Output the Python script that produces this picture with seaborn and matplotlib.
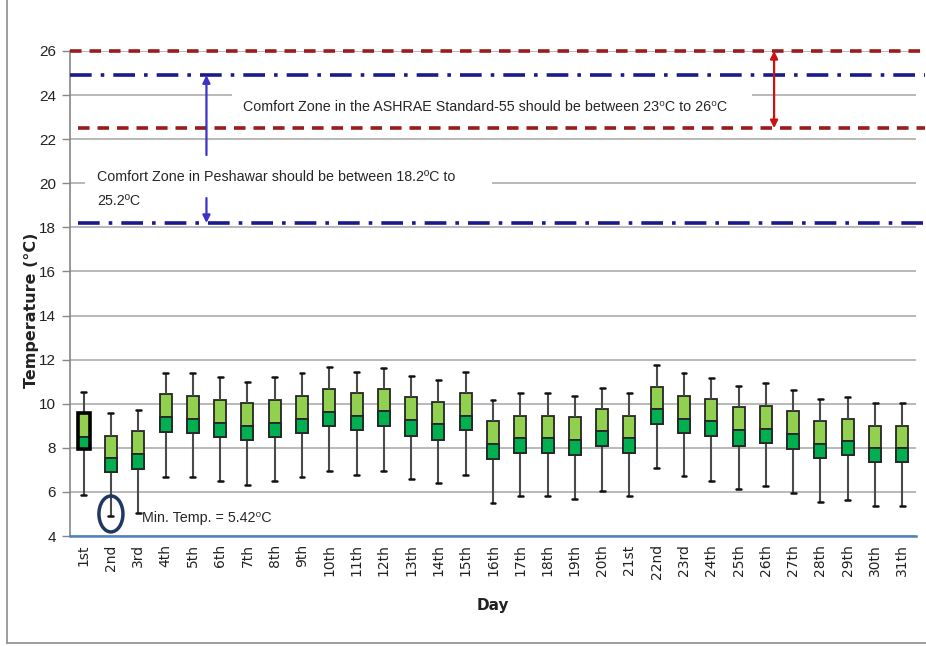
import numpy as np
import pandas as pd
import matplotlib
matplotlib.use("Agg")
import matplotlib.pyplot as plt
from matplotlib.patches import Rectangle, Ellipse
from matplotlib.lines import Line2D
import seaborn as sns

# ---------------- data ----------------
days = ["1st", "2nd", "3rd", "4th", "5th", "6th", "7th", "8th", "9th", "10th",
        "11th", "12th", "13th", "14th", "15th", "16th", "17th", "18th", "19th", "20th",
        "21st", "22nd", "23rd", "24th", "25th", "26th", "27th", "28th", "29th", "30th", "31th"]
whisker_low = [5.86, 4.92, 5.03, 6.69, 6.69, 6.51, 6.31, 6.51, 6.69, 6.96,
               6.77, 6.96, 6.58, 6.39, 6.77, 5.48, 5.81, 5.81, 5.68, 6.06,
               5.81, 7.10, 6.71, 6.51, 6.13, 6.27, 5.94, 5.56, 5.62, 5.37, 5.37]
q1 = [7.93, 6.89, 7.02, 8.73, 8.67, 8.48, 8.35, 8.48, 8.67, 8.99,
      8.81, 9.00, 8.55, 8.37, 8.81, 7.48, 7.78, 7.78, 7.66, 8.10,
      7.78, 9.07, 8.69, 8.55, 8.10, 8.23, 7.93, 7.54, 7.66, 7.34, 7.34]
median = [8.50, 7.52, 7.72, 9.38, 9.31, 9.14, 9.00, 9.14, 9.31, 9.64,
          9.44, 9.66, 9.26, 9.07, 9.44, 8.16, 8.43, 8.43, 8.35, 8.76,
          8.43, 9.74, 9.31, 9.20, 8.81, 8.87, 8.63, 8.16, 8.31, 7.98, 7.98]
q3 = [9.56, 8.55, 8.76, 10.43, 10.36, 10.15, 10.02, 10.15, 10.36, 10.67,
      10.49, 10.67, 10.29, 10.09, 10.49, 9.20, 9.46, 9.46, 9.40, 9.77,
      9.46, 10.74, 10.35, 10.23, 9.84, 9.91, 9.66, 9.22, 9.32, 9.00, 9.00]
whisker_high = [10.54, 9.59, 9.71, 11.38, 11.38, 11.20, 11.00, 11.20, 11.38, 11.65,
                11.44, 11.63, 11.26, 11.06, 11.44, 10.15, 10.49, 10.49, 10.36, 10.73,
                10.49, 11.76, 11.38, 11.18, 10.82, 10.92, 10.61, 10.23, 10.29, 10.05, 10.05]

ashrae_low, ashrae_high = 22.5, 26.0
peshawar_low, peshawar_high = 18.2, 24.9
min_temp_day = "2nd"
min_temp_value = 5.0

y_ticks = list(range(4, 27, 2))

# five-number summaries -> long table (quartiles exact with linear interpolation)
rows = []
for d, a, b, c, e, f in zip(days, whisker_low, q1, median, q3, whisker_high):
    for v in (a, b, c, e, f):
        rows.append({"day": d, "temp": v})
df = pd.DataFrame(rows)

# ---------------- style ----------------
sns.set_style("white")
plt.rcParams["font.family"] = ["DejaVu Sans"]
ann_font = ["Liberation Sans", "DejaVu Sans"]

fig = plt.figure(figsize=(9.26, 6.46), dpi=100)
ax = fig.add_axes([70 / 926, 110 / 646, 846 / 926, 485 / 646])

light_green = "#92D050"
dark_green = "#00B050"
edge = "#262626"

sns.boxplot(data=df, x="day", y="temp", order=days, whis=(0, 100), width=0.44,
            color=light_green, saturation=1, linecolor=edge, linewidth=1.3,
            showfliers=False, capwidths=0.18,
            whiskerprops=dict(color="#4a4a4a", linewidth=1.5),
            capprops=dict(color="#111111", linewidth=1.8),
            ax=ax)

xpos = np.arange(len(days))
lower_h = np.array(median) - np.array(q1)
ax.bar(xpos, lower_h, bottom=q1, width=0.44, color=dark_green,
       edgecolor=edge, linewidth=1.3, zorder=3)
# highlighted first box (thick border, as in the source)
ax.bar(xpos[:1], np.array(q3[:1]) - np.array(q1[:1]), bottom=q1[:1], width=0.44,
       fill=False, edgecolor="black", linewidth=2.6, zorder=4)

# ---------------- axes ----------------
ax.set_xlim(-0.5, len(days) - 0.5)
ax.set_ylim(4, 26)
ax.set_yticks(y_ticks)
ax.set_yticklabels([str(t) for t in y_ticks], fontsize=11, family=ann_font, color="#222222")
ax.yaxis.grid(True, color="#A6A6A6", linewidth=1.1)
ax.xaxis.grid(False)
ax.set_axisbelow(True)

ax.set_xticks(xpos)
ax.set_xticklabels(days, rotation=90, fontsize=10, color="#222222")
ax.set_xticks(np.arange(-0.5, len(days), 1.0), minor=True)
ax.tick_params(axis="x", which="major", length=0, pad=6)
ax.tick_params(axis="x", which="minor", length=6, width=1.2, color="#4F81BD", direction="out")
ax.tick_params(axis="y", which="major", length=6, width=1, color="#868686", direction="out", pad=4, left=True)

for s in ["top", "right"]:
    ax.spines[s].set_visible(False)
ax.spines["left"].set_color("#868686")
ax.spines["left"].set_linewidth(1.2)
ax.spines["bottom"].set_color("#4F81BD")
ax.spines["bottom"].set_linewidth(1.8)

ax.set_xlabel("Day", fontsize=11, fontweight="bold", color="#222222")
ax.xaxis.set_label_coords(0.5, -0.144)
ax.xaxis.label.set_va("center")
ax.set_ylabel("Temperature (°C)", fontsize=11.5, fontweight="bold", color="#222222")
ax.yaxis.set_label_coords(-0.045, 0.466)
ax.yaxis.label.set_va("center")

# ---------------- comfort zone lines ----------------
x_end = (925 - 70) / 846
ax.axhline(ashrae_high, xmin=0, xmax=x_end, color="#9B1C1C", linewidth=2.6,
           linestyle=(0, (3.2, 2.2)), clip_on=False, zorder=5)
ax.axhline(ashrae_low, xmin=0.0095, xmax=x_end, color="#9B1C1C", linewidth=2.6,
           linestyle=(0, (3.2, 2.2)), clip_on=False, zorder=5)
ax.axhline(peshawar_high, xmin=0, xmax=x_end, color="#1A1A8C", linewidth=2.6,
           linestyle=(0, (6, 2.5, 1, 2.5)), clip_on=False, zorder=5)
ax.axhline(peshawar_low, xmin=0.0095, xmax=x_end, color="#1A1A8C", linewidth=2.6,
           linestyle=(0, (6, 2.5, 1, 2.5)), clip_on=False, zorder=5)

# white text-box backgrounds that hide gridlines
ax.add_patch(Rectangle((0.1915, 0.841), 0.615, 0.083, transform=ax.transAxes,
                       facecolor="white", edgecolor="none", zorder=1))
ax.add_patch(Rectangle((0.0177, 0.662), 0.481, 0.124, transform=ax.transAxes,
                       facecolor="white", edgecolor="none", zorder=1))

ax.text(0.2045, 0.8845, "Comfort Zone in the ASHRAE Standard-55 should be between 23⁰C to 26⁰C",
        transform=ax.transAxes, ha="left", va="center", fontsize=10.3,
        family=ann_font, color="#262626", zorder=6)
ax.text(0.0319, 0.7155, "Comfort Zone in Peshawar should be between 18.2ºC to\n25.2ºC",
        transform=ax.transAxes, ha="left", va="center", fontsize=10.3, linespacing=1.95,
        family=ann_font, color="#262626", zorder=6)
ax.text(0.0851, 0.0371, "Min. Temp. = 5.42⁰C",
        transform=ax.transAxes, ha="left", va="center", fontsize=10.3,
        family=ann_font, color="#262626", zorder=6)

# arrows
arrow_blue = dict(arrowstyle="-|>", color="#3B32C8", linewidth=1.6, mutation_scale=11,
                  shrinkA=0, shrinkB=0)
ax.annotate("", xy=(4.5, peshawar_high), xytext=(4.5, 21.28), arrowprops=arrow_blue, zorder=6)
ax.annotate("", xy=(4.5, peshawar_low), xytext=(4.5, 19.33), arrowprops=arrow_blue, zorder=6)
ax.annotate("", xy=(25.3, ashrae_high), xytext=(25.3, ashrae_low),
            arrowprops=dict(arrowstyle="<|-|>", color="#CC1111", linewidth=1.6,
                            mutation_scale=11, shrinkA=0, shrinkB=0), zorder=6)

# ellipse marking the minimum temperature
ax.add_patch(Ellipse((days.index(min_temp_day), min_temp_value), 0.88, 1.63,
                     facecolor="none", edgecolor="#1F3864", linewidth=2.5, zorder=6))

# outer chart border (left & bottom)
fig.add_artist(Line2D([7 / 926, 7 / 926], [1.0, 3 / 646], color="#8C8C8C", linewidth=1.2))
fig.add_artist(Line2D([7 / 926, 1.0], [3 / 646, 3 / 646], color="#8C8C8C", linewidth=1.2))

fig.savefig("out.png", dpi=100)
